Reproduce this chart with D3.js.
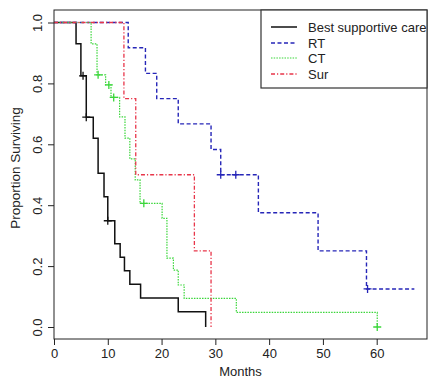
<!DOCTYPE html>
<html>
<head>
<meta charset="utf-8">
<script src="https://cdn.jsdelivr.net/npm/d3@7"></script>
<style>
  body { margin: 0; background: #fff; }
  svg { display: block; font-family: "Liberation Sans", Arial, sans-serif; }
</style>
</head>
<body>
<div id="chart"><svg width="428" height="380"></svg></div>
<script>
// step times (months) and survival after each step
const bscTimes = [0, 4.1, 5.0, 6.0, 7.3, 8.2, 9.3, 10.0, 11.3, 12.3, 13.1, 14.1, 16.1, 23.1, 28.2];
const bscSurv  = [1, 0.93, 0.825, 0.689, 0.62, 0.505, 0.428, 0.349, 0.273, 0.229, 0.185, 0.14, 0.095, 0.05, 0];
const bscCensT = [5.4, 6.0, 10.0];
const bscCensS = [0.825, 0.689, 0.349];

const rtTimes = [0, 13.8, 17.0, 19.1, 23.1, 29.2, 31.0, 38.0, 49.1, 58.1, 67.0];
const rtSurv  = [1, 0.917, 0.833, 0.75, 0.667, 0.583, 0.5, 0.375, 0.25, 0.125, 0.125];
const rtCensT = [31.0, 33.8, 58.3];
const rtCensS = [0.5, 0.5, 0.125];

const ctTimes = [0, 6.9, 8.0, 9.6, 10.6, 12.2, 13.2, 14.1, 15.1, 16.0, 20.1, 21.0, 22.2, 23.1, 24.2, 33.9, 60.1];
const ctSurv  = [1, 0.93, 0.828, 0.795, 0.754, 0.69, 0.62, 0.552, 0.483, 0.406, 0.357, 0.226, 0.187, 0.138, 0.094, 0.048, 0];
const ctCensT = [8.2, 10.2, 11.1, 16.7, 60.1];
const ctCensS = [0.828, 0.795, 0.754, 0.406, 0];

const surTimes = [0, 13.0, 15.2, 26.1, 29.2];
const surSurv  = [1, 0.75, 0.5, 0.25, 0];

const xTicks = [0, 10, 20, 30, 40, 50, 60];
const yTicks = [0, 0.2, 0.4, 0.6, 0.8, 1.0];

const groups = [
  {name: "Best supportive care", t: bscTimes, s: bscSurv, ct: bscCensT, cs: bscCensS, color: "#111", dash: null, width: 1.5},
  {name: "RT", t: rtTimes, s: rtSurv, ct: rtCensT, cs: rtCensS, color: "#2626b8", dash: "4,2.5", width: 1.4},
  {name: "CT", t: ctTimes, s: ctSurv, ct: ctCensT, cs: ctCensS, color: "#3ad63a", dash: "1.5,1.2", width: 1.2},
  {name: "Sur", t: surTimes, s: surSurv, ct: [], cs: [], color: "#e8364a", dash: "4,2,1.2,2", width: 1.3}
];

const svg = d3.select("#chart svg");
const box = {left: 54, right: 427, top: 10, bottom: 339};

const x = d3.scaleLinear().domain([0, 60]).range([54, 376.7]);
const y = d3.scaleLinear().domain([0, 1]).range([327, 22.5]);

// curves
const line = d3.line()
  .x(d => x(d[0]))
  .y(d => y(d[1]))
  .curve(d3.curveStepAfter);

const curves = svg.append("g");
groups.forEach(g => {
  const pts = g.t.map((t, i) => [t, g.s[i]]);
  curves.append("path")
    .attr("d", line(pts))
    .attr("fill", "none")
    .attr("stroke", g.color)
    .attr("stroke-width", g.width)
    .attr("stroke-dasharray", g.dash);

  g.ct.forEach((t, i) => {
    const cx = x(t), cy = y(g.cs[i]);
    curves.append("path")
      .attr("d", `M${cx - 4},${cy}H${cx + 4}M${cx},${cy - 4}V${cy + 4}`)
      .attr("stroke", g.color)
      .attr("stroke-width", 1.3);
  });
});

// plot box
svg.append("rect")
  .attr("x", box.left).attr("y", box.top)
  .attr("width", box.right - box.left).attr("height", box.bottom - box.top)
  .attr("fill", "none").attr("stroke", "#222").attr("stroke-width", 1);

// x axis
const xAxis = svg.append("g")
  .attr("transform", `translate(0,${box.bottom})`)
  .call(d3.axisBottom(x).tickValues(xTicks).tickSize(6).tickPadding(4).tickFormat(d3.format("d")));
xAxis.select(".domain").remove();
xAxis.selectAll("text").attr("font-size", 13).attr("fill", "#222");
xAxis.selectAll("line").attr("stroke", "#222");

// y axis, labels rotated like R
const yAxis = svg.append("g")
  .attr("transform", `translate(${box.left},0)`)
  .call(d3.axisLeft(y).tickValues(yTicks).tickSize(6).tickFormat(d3.format(".1f")));
yAxis.select(".domain").remove();
yAxis.selectAll("line").attr("stroke", "#222");
yAxis.selectAll("text")
  .attr("font-size", 13).attr("fill", "#222")
  .attr("text-anchor", "middle")
  .attr("dy", null)
  .attr("x", null)
  .attr("transform", "translate(-12,0) rotate(-90)");

// axis titles
svg.append("text")
  .attr("x", 240.5).attr("y", 376)
  .attr("text-anchor", "middle")
  .attr("font-size", 13).attr("fill", "#222")
  .text("Months");

svg.append("text")
  .attr("transform", "translate(20,168) rotate(-90)")
  .attr("text-anchor", "middle")
  .attr("font-size", 13.5).attr("fill", "#222")
  .text("Proportion Surviving");

// legend
const lg = svg.append("g");
lg.append("rect")
  .attr("x", 261).attr("y", 10).attr("width", 166).attr("height", 78)
  .attr("fill", "#fff").attr("stroke", "#333").attr("stroke-width", 1.2);
const legendY = [27, 43, 58, 74];
groups.forEach((g, i) => {
  lg.append("line")
    .attr("x1", 271).attr("x2", 297)
    .attr("y1", legendY[i]).attr("y2", legendY[i])
    .attr("stroke", g.color).attr("stroke-width", g.width)
    .attr("stroke-dasharray", g.dash);
  lg.append("text")
    .attr("x", 308).attr("y", legendY[i])
    .attr("dy", "0.35em")
    .attr("font-size", 13).attr("fill", "#222")
    .text(g.name);
});
</script>
</body>
</html>
